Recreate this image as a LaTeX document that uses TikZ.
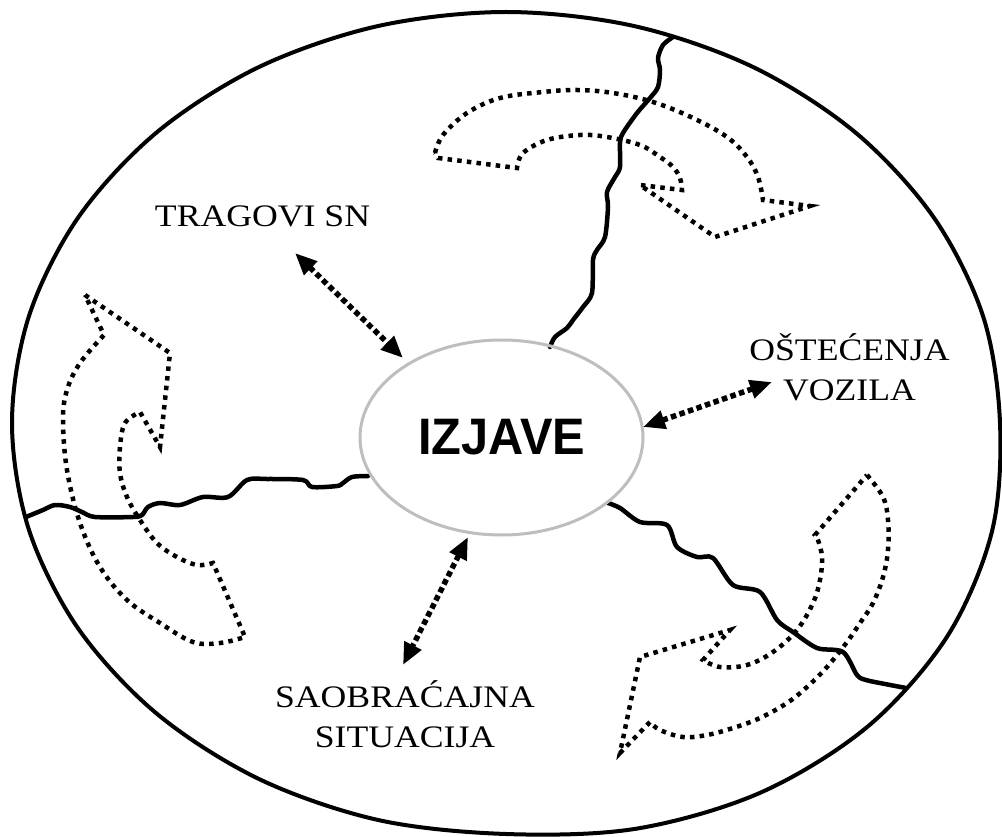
\documentclass[tikz,border=0pt]{standalone}
\usepackage{fontspec}
\usetikzlibrary{arrows.meta,shapes.geometric}
\newfontfamily\labfont[FakeStretch=1.14]{Liberation Serif}
\newfontfamily\izfont[FakeStretch=0.95]{Liberation Sans}
\definecolor{ringgray}{RGB}{190,190,190}
\begin{document}
\begin{tikzpicture}[x=1pt,y=-1pt,
  outerline/.style={line width=4pt},
  crack/.style={line width=4.5pt, line join=round, line cap=round},
  dotarc/.style={line width=4.5pt, dash pattern=on 4.5pt off 5.2pt},
  darrow/.style={line width=5.5pt, dash pattern=on 5.5pt off 3.5pt,
    {Triangle[length=22pt,width=18pt]}-{Triangle[length=22pt,width=18pt]}},
  lab/.style={font=\labfont\fontsize{31.3}{39.5}\selectfont, align=center, anchor=base, inner sep=0pt},
  centre/.style={ellipse, draw=ringgray, line width=3pt, minimum width=283pt, minimum height=195pt,
    inner sep=0pt, font=\izfont\bfseries\fontsize{51.3}{60}\selectfont}
]
\useasboundingbox (0,0) rectangle (1002,837);

% outer boundary
\draw[outerline] plot[smooth cycle, tension=0.55] coordinates {(1000,423) (991.9,531.7) (947.3,636.3) (868,726.3) (760.8,792.5) (636.2,828.7) (506,834) (378.2,820) (259,779) (156.7,713.6) (78.2,628.5) (28.8,529.4) (12,423) (28.8,316.6) (78.2,217.5) (156.7,132.4) (259,67) (378.2,26) (506,12) (633.9,26) (753,67) (855.3,132.4) (933.8,217.5) (983.2,316.6)};

% cracks
\draw[crack] plot[smooth, tension=0.5] coordinates {(673,37) (663,45) (658,58) (660,70) (658,87) (650,98) (637,113) (623,133) (620,143) (620,167) (615,177) (607,192) (608,207) (605,237) (597,250) (593,260) (592,293) (583,307) (573,320) (567,328) (555,337) (550,347)};
\draw[crack] plot[smooth, tension=0.5] coordinates {(26,517) (43,510) (55,505) (70,507) (82,512) (95,517) (133,517) (142,515) (148,507) (160,503) (180,505) (203,497) (228,497) (247,480) (267,479) (303,480) (312,487) (337,486) (343,483) (352,477) (368,476)};
\draw[crack] plot[smooth, tension=0.5] coordinates {(608,503) (620,508) (640,522) (667,525) (677,547) (697,557) (713,558) (733,585) (760,592) (777,620) (793,632) (817,648) (843,652) (857,675) (866,680) (885,684) (906,688)};

% dotted curved block arrows
\draw[dotarc] plot[smooth, tension=0.6] coordinates {(435,153) (443,135) (467,113) (500,98) (543,92) (577,90) (613,93) (653,102) (693,118) (727,137) (747,157) (758,177) (763,200)}
  -- (810,206) -- (715,237) -- (640,185) -- (682,190)
  -- plot[smooth, tension=0.6] coordinates {(682,190) (680,178) (673,167) (660,157) (640,145) (607,137) (580,135) (547,140) (523,153) (517,168)}
  -- (438,158) -- cycle;

\draw[dotarc] (85,295) -- (170,353) -- (160,447) -- (140,412)
  -- plot[smooth, tension=0.6] coordinates {(140,412) (125,423) (120,447) (120,473) (127,497) (140,520) (157,543) (177,557) (197,565) (213,563)}
  -- (245,637)
  -- plot[smooth, tension=0.6] coordinates {(245,637) (220,643) (193,642) (160,623) (127,600) (100,567) (80,523) (67,470) (63,420) (67,390) (80,363) (104,335)}
  -- cycle;

\draw[dotarc] plot[smooth, tension=0.6] coordinates {(867,475) (883,497) (888,520) (888,550) (883,577) (873,603) (860,623) (847,642) (827,667) (807,687) (787,703) (760,718) (733,728) (707,735) (683,737) (660,730) (650,722)}
  -- (620,753) -- (640,657) -- (730,630) -- (703,660)
  -- plot[smooth, tension=0.6] coordinates {(703,660) (720,667) (747,665) (773,652) (797,630) (813,603) (820,580) (822,557) (818,540) (815,535)}
  -- cycle;

% centre
\node[centre] (izj) at (501.5,437.5) {IZJAVE};

% labels (base anchor = baseline of last line)
\node[lab] (trag) at (262.5,226.7) {TRAGOVI SN};
\node[lab] (ost) at (849.5,400) {OŠTEĆENJA\\VOZILA};
\node[lab] (saob) at (405,747) {SAOBRAĆAJNA\\SITUACIJA};

% double-headed dotted arrows
\coordinate (ta) at (295,253);
\coordinate (tb) at (403,358);
\coordinate (oa) at (643,427);
\coordinate (ob) at (772,382);
\coordinate (sa) at (468,537);
\coordinate (sb) at (403,665);
\draw[darrow] (ta) -- (tb);
\draw[darrow] (oa) -- (ob);
\draw[darrow] (sa) -- (sb);
\end{tikzpicture}
\end{document}
